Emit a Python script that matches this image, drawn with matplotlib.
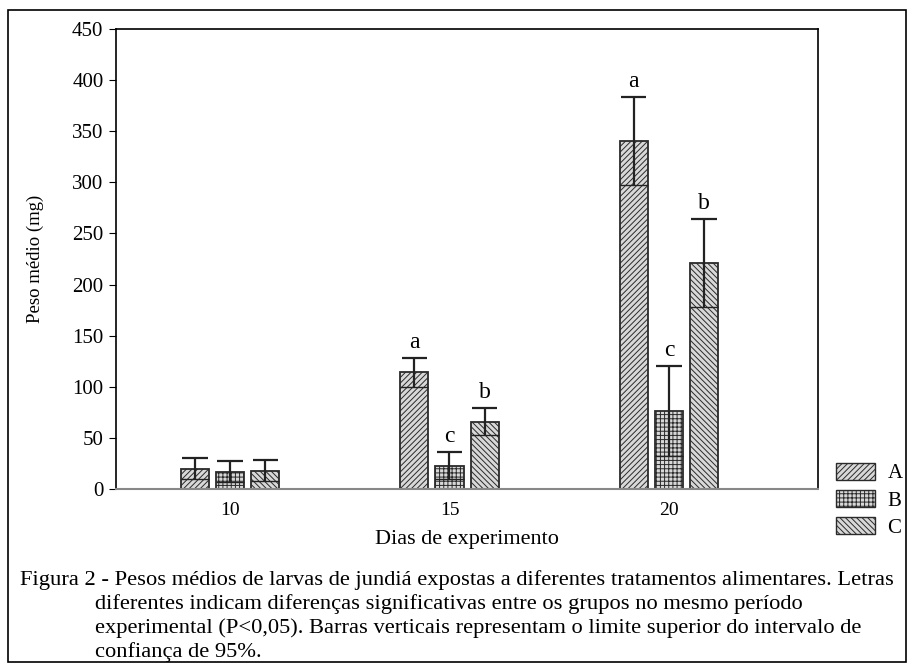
import matplotlib.pyplot as plt
import numpy as np
from matplotlib.patches import Rectangle, Patch

plt.rcParams['font.family'] = ['Liberation Serif', 'DejaVu Serif']
plt.rcParams['hatch.linewidth'] = 0.7

dias = [10, 15, 20]
grupos = ["A", "B", "C"]
media = {"A": [20, 114, 340], "B": [17, 23, 76], "C": [18, 66, 221]}
ic = {"A": [10, 14, 43], "B": [10, 13, 44], "C": [10, 13, 43]}
letras = {"A": ["", "a", "a"], "B": ["", "c", "c"], "C": ["", "b", "b"]}
hatches = {"A": "//////", "B": "++++", "C": "\\\\\\\\\\\\"}
desloc = {"A": -0.8, "B": 0.0, "C": 0.8}

fig = plt.figure(figsize=(9.11, 6.69), dpi=100)
ax = fig.add_axes([0.1273, 0.269, 0.898 - 0.1273, 0.9567 - 0.269])

w = 0.64
for g in grupos:
    x = np.array(dias) + desloc[g]
    ax.bar(x, media[g], width=w, color="#d8d8d8", edgecolor="#2a2a2a",
           hatch=hatches[g], linewidth=1.3)
    lo = np.array(media[g]) - np.array(ic[g])
    hi = np.array(media[g]) + np.array(ic[g])
    ax.vlines(x, lo, hi, color="#222222", lw=1.6)
    ax.hlines(hi, x - w * 0.45, x + w * 0.45, color="#222222", lw=1.6)
    ax.hlines(lo, x - w / 2, x + w / 2, color="#222222", lw=1.0)
    for xi, h, l in zip(x, hi, letras[g]):
        ax.text(xi, h + 5, l, ha="center", va="bottom", fontsize=17)

ax.set_xlim(7.4, 23.4)
ax.set_ylim(0, 450)
ax.set_yticks(range(0, 451, 50))
ax.set_xticks(dias)
ax.tick_params(axis="y", labelsize=15, length=5, direction="out", pad=4)
ax.tick_params(axis="x", labelsize=14, length=0, pad=9)
ax.spines["bottom"].set_color("#888888")
ax.spines["bottom"].set_linewidth(1.5)
for s in ["left", "top", "right"]:
    ax.spines[s].set_linewidth(1.2)

ax.set_ylabel("Peso médio (mg)", fontsize=13.5, labelpad=20)
ax.set_xlabel("Dias de experimento", fontsize=16, labelpad=8)

handles = [Patch(facecolor="#d8d8d8", edgecolor="#2a2a2a", hatch=hatches[g]) for g in grupos]
fig.legend(handles, grupos, loc="lower left", bbox_to_anchor=(826 / 911, 1 - 548 / 669),
           frameon=False, fontsize=15, handlelength=1.85, handleheight=0.9,
           labelspacing=0.3, handletextpad=0.6, borderpad=0)

fig.patches.append(Rectangle((8 / 911, 1 - 662 / 669), 898 / 911, 652 / 669,
                             transform=fig.transFigure, fill=False,
                             edgecolor="black", lw=1.2))

legenda = [
    (20, "Figura 2 - Pesos médios de larvas de jundiá expostas a diferentes tratamentos alimentares. Letras"),
    (95, "diferentes indicam diferenças significativas entre os grupos no mesmo período"),
    (95, "experimental (P<0,05). Barras verticais representam o limite superior do intervalo de"),
    (95, "confiança de 95%."),
]
for i, (x0, linha) in enumerate(legenda):
    fig.text(x0 / 911, 1 - (580 + 24 * i) / 669, linha, fontsize=16.2, va="center", ha="left")

fig.savefig("out.png", dpi=100)
